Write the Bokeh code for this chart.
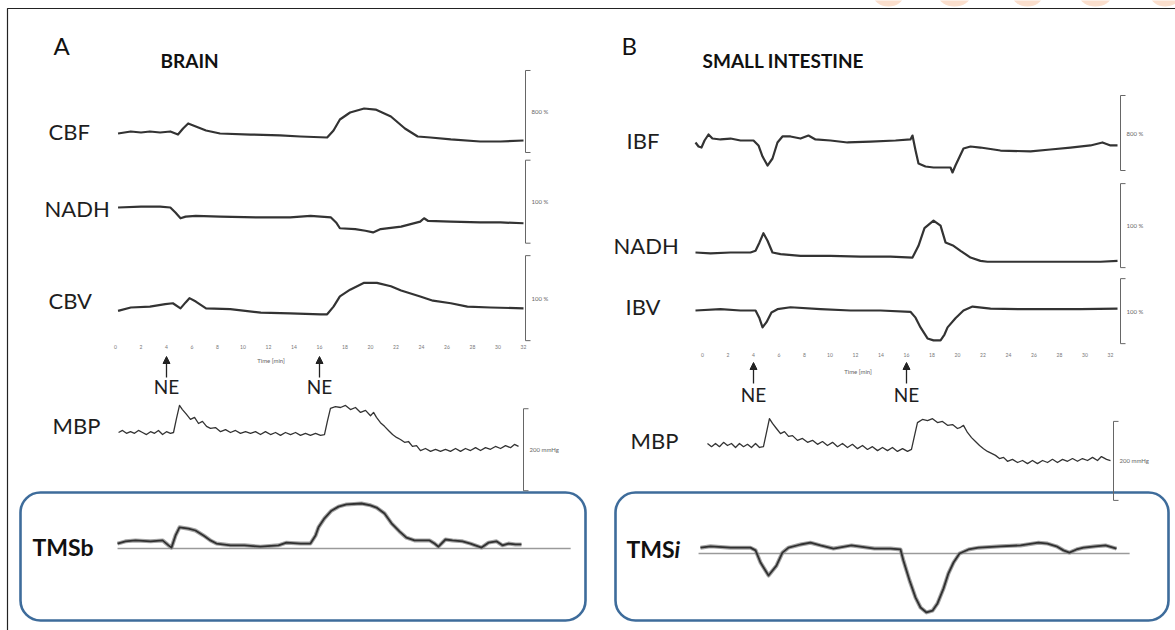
from bokeh.plotting import figure
from bokeh.models import Range1d, BoxAnnotation, Arrow, NormalHead
from bokeh.core.properties import value
from bokeh.embed import file_html
from bokeh.resources import INLINE

# ------------------------------------------------------------------ data
# time axis (minutes) and its tick labels
TICK_MIN = [0, 2, 4, 6, 8, 10, 12, 14, 16, 18, 20, 22, 24, 26, 28, 30, 32]
TICK_LABELS = ["0", "2", "4", "6", "8", "10", "12", "14", "16", "18", "20",
               "22", "24", "26", "28", "30", "32"]
NE_MIN = [4, 16]            # norepinephrine injections

# scale bars
SCALE_FLOW = 800            # %
SCALE_NADH = 100            # %
SCALE_VOL = 100             # %
SCALE_MBP = 200             # mmHg

# ---- A: brain
CBF_T = [0.2, 1.2, 2.0, 2.7, 3.5, 4.3, 4.9, 5.3, 5.7, 6.3, 7.1, 8.2, 10.6, 12.9, 14.5,
         16.6, 17.1, 17.6, 18.4, 19.5, 20.4, 21.6, 22.7, 23.7, 24.7, 26.3, 28.6, 30.2, 32.0]
CBF_V = [-10, 10, 0, 10, 0, 10, -20, 39, 88, 59, 20, -10, -20, -29, -39,
         -49, 20, 127, 195, 234, 224, 156, 39, -39, -49, -68, -88, -88, -78]

NADH_A_T = [0.2, 2.0, 3.5, 4.3, 4.7, 5.1, 5.5, 6.3, 8.2, 11.4, 13.7, 15.3, 16.9, 17.3,
            17.6, 18.8, 19.6, 20.2, 20.8, 22.4, 23.9, 24.2, 24.5, 26.3, 28.6, 30.2, 32.0]
NADH_A_V = [0, 1, 1, 0, -6, -13, -11, -10, -11, -12, -12, -10, -12, -18,
            -25, -26, -28, -30, -26, -23, -17, -13, -16, -17, -18, -18, -19]

CBV_T = [0.2, 1.2, 2.7, 3.9, 4.5, 5.1, 5.5, 5.8, 6.3, 7.1, 9.0, 11.4, 13.7, 16.1,
         16.6, 17.1, 17.6, 18.4, 19.5, 20.5, 21.6, 22.4, 23.9, 24.9, 26.3, 27.6, 29.4, 32.0]
CBV_V = [-4, 0, 1, 4, 5, -1, 6, 11, 7, -1, -2, -6, -7, -8,
         -8, 1, 13, 21, 29, 29, 25, 20, 13, 8, 5, 1, 0, -1]

MBP_A_T = [0.24, 0.55, 0.86, 1.18, 1.49, 1.80, 2.12, 2.43, 2.75, 3.06, 3.37, 3.69, 4.00,
           4.31, 4.55, 4.78, 5.02, 5.25, 5.57, 5.88, 6.20, 6.51, 6.82, 7.14, 7.45, 7.84,
           8.24, 8.63, 9.02, 9.41, 9.80, 10.20, 10.59, 10.98, 11.37, 11.76, 12.16, 12.55,
           12.94, 13.33, 13.73, 14.12, 14.51, 14.90, 15.29, 15.69, 16.08, 16.39, 16.63,
           16.86, 17.25, 17.65, 18.04, 18.43, 18.82, 19.22, 19.61, 20.00, 20.24, 20.47,
           20.78, 21.10, 21.41, 21.73, 22.04, 22.35, 22.67, 22.98, 23.29, 23.61, 23.92,
           24.31, 24.71, 25.10, 25.49, 25.88, 26.27, 26.67, 27.06, 27.45, 27.84, 28.24,
           28.63, 29.02, 29.41, 29.80, 30.20, 30.59, 30.98, 31.29, 31.61]
MBP_A_V = [0, 5, -2, 2, -2, 5, 0, -5, 2, -2, 5, -5, 2,
           -2, 0, 34, 66, 56, 44, 32, 37, 22, 27, 15, 10, 12,
           2, 7, 0, 5, -2, 2, -2, 2, -5, 2, -5, 0,
           -7, 0, -5, 0, -7, -2, -7, -2, -7, -5, 29,
           59, 63, 61, 66, 56, 61, 49, 54, 41, 49, 37,
           24, 15, 5, -5, -12, -17, -24, -22, -34, -32, -44,
           -39, -46, -41, -46, -41, -46, -39, -46, -39, -44, -37,
           -44, -37, -41, -34, -39, -32, -37, -29, -34]

TMSB_T = [0.16, 0.78, 1.57, 2.75, 3.69, 4.16, 4.39, 4.71, 5.02, 5.73, 6.27, 6.90, 7.45,
          7.92, 9.02, 10.12, 11.37, 12.78, 13.41, 14.51, 15.29, 15.69, 15.92, 16.39,
          16.94, 17.49, 18.12, 19.29, 20.00, 20.47, 21.10, 21.65, 22.27, 22.82, 23.45,
          24.08, 24.63, 25.02, 25.33, 25.88, 26.43, 27.22, 27.84, 28.71, 29.25, 29.88,
          30.35, 30.82, 31.37, 31.84]
TMSB_V = [0.11, 0.16, 0.18, 0.16, 0.18, 0.07, 0.02, 0.29, 0.47, 0.44, 0.40, 0.29, 0.18,
          0.11, 0.07, 0.07, 0.04, 0.07, 0.13, 0.11, 0.11, 0.29, 0.47, 0.67,
          0.84, 0.93, 0.98, 1.00, 0.96, 0.91, 0.78, 0.56, 0.38, 0.24, 0.18,
          0.18, 0.18, 0.11, 0.04, 0.20, 0.18, 0.16, 0.11, 0.02, 0.13, 0.16,
          0.07, 0.11, 0.09, 0.09]

# ---- B: small intestine
IBF_T = [-0.55, -0.31, -0.08, 0.16, 0.47, 0.78, 1.41, 2.20, 2.98, 4.00, 4.39, 4.71, 5.10,
         5.49, 5.88, 6.27, 6.90, 7.69, 8.31, 8.86, 10.04, 11.37, 13.18, 15.14, 16.31,
         16.47, 16.71, 16.94, 17.49, 18.12, 19.06, 19.45, 19.61, 19.84, 20.47, 21.02,
         21.80, 23.37, 25.73, 27.29, 28.86, 30.43, 31.37, 32.00, 32.55]
IBF_V = [-21, -64, -75, 0, 64, 21, 11, 21, 0, 0, -53, -171, -267,
         -192, -21, 43, 43, 21, 53, 11, 0, -21, -11, 0, 11,
         53, -107, -245, -277, -288, -288, -288, -341, -267, -85, -64,
         -75, -107, -117, -96, -75, -53, -21, -53, -53]

NADH_B_T = [-0.55, 0.63, 2.20, 3.76, 4.16, 4.47, 4.78, 5.10, 5.49, 6.12, 7.69, 10.04,
            12.39, 14.75, 16.47, 16.94, 17.41, 18.12, 18.67, 19.06, 19.69, 20.24, 21.02,
            21.80, 22.35, 24.16, 26.51, 28.86, 31.22, 32.55]
NADH_B_V = [0, -1, 0, 0, 2, 12, 23, 14, 0, -2, -4, -4,
            -5, -5, -6, 8, 29, 38, 32, 12, 8, 2, -6,
            -10, -11, -11, -11, -11, -11, -10]

IBV_T = [-0.55, 1.41, 2.98, 4.16, 4.47, 4.71, 5.02, 5.41, 5.88, 6.90, 9.25, 11.61, 13.96,
         16.31, 16.71, 17.10, 17.65, 18.12, 18.67, 18.98, 19.22, 19.84, 20.47, 21.18,
         22.59, 24.94, 27.29, 29.65, 32.55]
IBV_V = [0, 2, 0, 0, -12, -26, -18, -3, 2, 5, 2, 0, 0,
         -2, -11, -26, -43, -46, -46, -37, -26, -12, 0, 6,
         3, 2, 2, 2, 3]

MBP_B_T = [0.39, 0.71, 1.02, 1.33, 1.65, 1.96, 2.27, 2.59, 2.90, 3.22, 3.53, 3.84, 4.16,
           4.47, 4.78, 5.02, 5.25, 5.49, 5.80, 6.12, 6.43, 6.75, 7.06, 7.45, 7.84, 8.24,
           8.63, 9.02, 9.41, 9.80, 10.20, 10.59, 10.98, 11.37, 11.76, 12.16, 12.55, 12.94,
           13.33, 13.73, 14.12, 14.51, 14.90, 15.29, 15.69, 16.08, 16.39, 16.63, 16.86,
           17.25, 17.65, 18.04, 18.43, 18.82, 19.22, 19.61, 20.00, 20.24, 20.47, 20.78,
           21.10, 21.41, 21.73, 22.04, 22.35, 22.67, 22.98, 23.29, 23.61, 23.92, 24.31,
           24.71, 25.10, 25.49, 25.88, 26.27, 26.67, 27.06, 27.45, 27.84, 28.24, 28.63,
           29.02, 29.41, 29.80, 30.20, 30.59, 30.98, 31.29, 31.69, 32.00]
MBP_B_V = [5, -3, 5, -3, 8, 0, 5, -5, 5, -3, 3, -5, 5,
           -5, -3, 33, 68, 56, 43, 30, 35, 23, 25, 13, 18, 8,
           13, 3, 10, 0, 8, -3, 5, -5, 3, -8, 0, -10,
           -3, -13, -5, -13, -5, -15, -8, -15, -10, 25, 58,
           66, 63, 68, 58, 61, 51, 53, 43, 46, 51, 33,
           20, 10, 0, -8, -15, -20, -25, -33, -30, -40, -35,
           -43, -38, -46, -38, -46, -38, -43, -35, -43, -35, -40,
           -33, -40, -33, -38, -30, -38, -28, -35, -38]

TMSI_T = [-0.16, 0.63, 2.20, 3.76, 4.16, 4.55, 5.18, 5.80, 6.27, 6.75, 7.69, 8.47, 9.25,
          10.27, 11.69, 13.49, 14.75, 15.53, 15.76, 16.24, 16.71, 17.10, 17.57, 18.04,
          18.43, 18.90, 19.29, 19.69, 20.16, 20.86, 21.65, 23.37, 24.94, 26.35, 27.06,
          27.76, 28.31, 28.78, 29.33, 29.88, 30.82, 31.61, 32.47]
TMSI_V = [0.13, 0.16, 0.13, 0.13, 0.07, -0.20, -0.49, -0.27, 0.02, 0.13, 0.20, 0.24, 0.18,
          0.11, 0.18, 0.11, 0.11, 0.09, -0.16, -0.60, -0.98, -1.20, -1.31, -1.27,
          -1.11, -0.78, -0.44, -0.20, 0.00, 0.09, 0.13, 0.16, 0.18, 0.24, 0.22,
          0.16, 0.07, 0.02, 0.09, 0.13, 0.16, 0.18, 0.11]

# ------------------------------------------------------------------ layout
W, H = 1175, 630
PX_PER_MIN = 12.75
PANEL_X0 = {"tA": 115, "tB": 702}
FONT = value("Lato")
INK = "#333333"

p = figure(width=W, height=H, x_range=Range1d(0, W), y_range=Range1d(H, 0),
           output_backend="svg", toolbar_location=None, min_border=0,
           x_axis_location=None, y_axis_location=None)
p.grid.visible = False
p.outline_line_color = None
p.background_fill_color = "white"
p.border_fill_color = "white"

for name, x0 in PANEL_X0.items():
    p.extra_x_ranges[name] = Range1d(-x0 / PX_PER_MIN, (W - x0) / PX_PER_MIN)


def add_trace_range(name, base_px, px_per_unit):
    s = 1.0 / px_per_unit
    p.extra_y_ranges[name] = Range1d((base_px - H) * s, base_px * s)


# faint watermark shapes peeking above the top frame edge (decoration)
p.ellipse(x=[888, 954, 1027, 1095, 1165], y=[-5] * 5, width=[30, 32, 30, 32, 30],
          height=[22] * 5, fill_color="#f9d2b8", fill_alpha=0.7, line_color=None)

# outer frame (only top and left edges visible)
p.add_layout(BoxAnnotation(left=7, right=W + 20, top=8, bottom=H + 20,
                           fill_alpha=0, line_color="#222", line_alpha=1.0,
                           line_width=1.2))

# rounded boxes for TMS
for l, r in [(20, 585), (615, 1168)]:
    p.add_layout(BoxAnnotation(left=l, right=r, top=492, bottom=620,
                               fill_color="white", fill_alpha=1.0,
                               line_color="#3e6c9b", line_alpha=1.0, line_width=2.6,
                               border_radius=20, level="underlay"))

# trace layout: range name, panel, t, v, baseline px, px per unit, scale bar (lo, value, x, text), label
TRACES = [
    ("CBF", "tA", CBF_T, CBF_V, 132, 82 / SCALE_FLOW, (-195, SCALE_FLOW, 525, "800 %"), ("CBF", 48, 131), 2.2),
    ("NADHA", "tA", NADH_A_T, NADH_A_V, 207, 83 / SCALE_NADH, (-43, SCALE_NADH, 525, "100 %"), ("NADH", 44, 208), 2.2),
    ("CBV", "tA", CBV_T, CBV_V, 307, 85 / SCALE_VOL, (-39, SCALE_VOL, 525, "100 %"), ("CBV", 48, 300), 2.2),
    ("MBPA", "tA", MBP_A_T, MBP_A_V, 432, 82 / SCALE_MBP, (-142, SCALE_MBP, 523, "200 mmHg"), ("MBP", 52, 425), 1.3),
    ("IBF", "tB", IBF_T, IBF_V, 140, 75 / SCALE_FLOW, (-320, SCALE_FLOW, 1120, "800 %"), ("IBF", 626, 140), 2.2),
    ("NADHB", "tB", NADH_B_T, NADH_B_V, 252, 84 / SCALE_NADH, (-18, SCALE_NADH, 1120, "100 %"), ("NADH", 613, 245), 2.2),
    ("IBV", "tB", IBV_T, IBV_V, 310, 65 / SCALE_VOL, (-51, SCALE_VOL, 1120, "100 %"), ("IBV", 625, 306), 2.2),
    ("MBPB", "tB", MBP_B_T, MBP_B_V, 445, 79 / SCALE_MBP, (-139, SCALE_MBP, 1113, "200 mmHg"), ("MBP", 630, 440), 1.3),
]

for name, panel, t, v, base, ppu, bar, lab, lw in TRACES:
    add_trace_range(name, base, ppu)
    p.line(t, v, x_range_name=panel, y_range_name=name, line_color=INK,
           line_width=lw, line_join="round")
    lo, val, bx, btxt = bar
    p.segment(x0=[bx, bx, bx], y0=[lo, lo, lo + val], x1=[bx, bx + 5, bx + 5],
              y1=[lo + val, lo, lo + val], y_range_name=name,
              line_color="#666", line_width=1)
    p.text(x=[bx + 6], y=[lo + val / 2], text=[btxt], y_range_name=name,
           text_font=FONT, text_font_size="6px", text_color="#666",
           text_baseline="middle", text_align="left")
    txt, lx, ly = lab
    p.text(x=[lx], y=[ly], text=[txt], text_font=FONT, text_font_size="22px",
           text_color="#1e1e1e", text_baseline="middle", text_align="left")

# TMS traces
TMS = [("TMSB", "tA", TMSB_T, TMSB_V, 548, (0.16, 35.7)),
       ("TMSI", "tB", TMSI_T, TMSI_V, 553, (-0.31, 33.5))]
for name, panel, t, v, base, (ts, te) in TMS:
    add_trace_range(name, base, 45)
    p.segment(x0=[ts], y0=[0], x1=[te], y1=[0], x_range_name=panel, y_range_name=name,
              line_color="#9a9a9a", line_width=1.5)
    p.line(t, v, x_range_name=panel, y_range_name=name, line_color="#8c8c8c",
           line_width=4, line_alpha=0.8, line_join="round")
    p.line(t, v, x_range_name=panel, y_range_name=name, line_color="#303030",
           line_width=1.8, line_join="round")

p.text(x=[32], y=[546], text=["TMSb"], text_font=FONT, text_font_size="23px",
       text_font_style="bold", text_color="#111", text_baseline="middle")
p.text(x=[626], y=[548], text=["TMS"], text_font=FONT, text_font_size="23px",
       text_font_style="bold", text_color="#111", text_baseline="middle")
p.text(x=[674], y=[548], text=["i"], text_font=FONT, text_font_size="23px",
       text_font_style="bold italic", text_color="#111", text_baseline="middle")

# time ticks, axis title, NE arrows
for panel, tick_y, title_y, arr_y0, arr_y1, ne_y in [("tA", 346, 360, 377, 356, 386),
                                                     ("tB", 354, 371, 383, 362, 394)]:
    p.text(x=TICK_MIN, y=[tick_y] * len(TICK_MIN), text=TICK_LABELS, x_range_name=panel,
           text_font=FONT, text_font_size="5px", text_color="#777",
           text_align="center", text_baseline="middle")
    p.text(x=[12.2], y=[title_y], text=["Time [min]"], x_range_name=panel,
           text_font=FONT, text_font_size="6px", text_color="#666",
           text_align="center", text_baseline="middle")
    for tm in NE_MIN:
        p.add_layout(Arrow(x_start=tm, y_start=arr_y0, x_end=tm, y_end=arr_y1,
                           x_range_name=panel, line_color="#222", line_width=1.3,
                           end=NormalHead(size=7, fill_color="#222", line_color="#222")))
    p.text(x=NE_MIN, y=[ne_y] * len(NE_MIN), text=["NE"] * len(NE_MIN), x_range_name=panel,
           text_font=FONT, text_font_size="19px", text_color="#1e1e1e",
           text_align="center", text_baseline="middle")

# panel letters and titles
p.text(x=[53, 621], y=[45, 45], text=["A", "B"], text_font=FONT, text_font_size="24px",
       text_color="#111", text_baseline="middle")
p.text(x=[160, 702], y=[60, 60], text=["BRAIN", "SMALL INTESTINE"], text_font=FONT,
       text_font_size="19px", text_font_style="bold", text_color="#111",
       text_baseline="middle")

open("out.html", "w").write(file_html(p, INLINE))
